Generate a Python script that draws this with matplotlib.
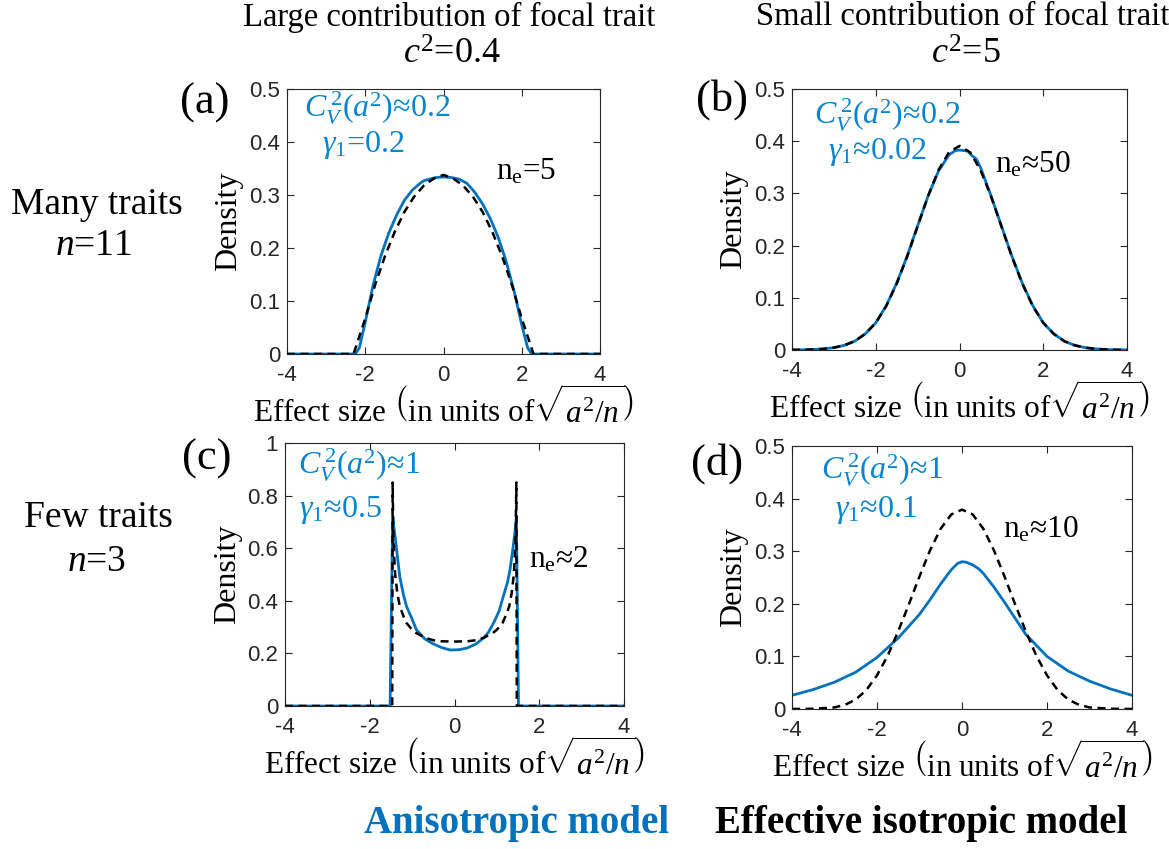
import matplotlib
matplotlib.use("Agg")
import matplotlib.pyplot as plt
from matplotlib.ticker import FuncFormatter

plt.rcParams['mathtext.fontset'] = 'custom'
plt.rcParams['mathtext.rm'] = 'Liberation Serif'
plt.rcParams['mathtext.it'] = 'Liberation Serif:italic'
plt.rcParams['mathtext.bf'] = 'Liberation Serif:bold'

# ---------------- data ----------------
# Panel (a): many traits, large contribution
a_aniso_x = [-4, -2.25, -2.15, -2.0, -1.8, -1.6, -1.4, -1.2, -1.0, -0.8, -0.6, -0.5, -0.4,
             -0.2, 0, 0.2, 0.4, 0.6, 0.8, 1.0, 1.2, 1.4, 1.6, 1.8, 2.0, 2.15, 2.25, 4]
a_aniso_y = [0, 0, 0.012, 0.06, 0.13, 0.185, 0.228, 0.262, 0.29, 0.309, 0.322, 0.327, 0.329,
             0.333, 0.334, 0.333, 0.330, 0.322, 0.305, 0.283, 0.255, 0.22, 0.175, 0.12, 0.055, 0.012, 0, 0]
a_iso_x = [-4, -2.3, -2.0, -1.75, -1.5, -1.25, -1.0, -0.75, -0.5, -0.25, 0, 0.25, 0.5, 0.75,
           1.0, 1.25, 1.5, 1.75, 2.0, 2.3, 4]
a_iso_y = [0, 0, 0.067, 0.130, 0.184, 0.230, 0.268, 0.297, 0.318, 0.331, 0.338, 0.331, 0.318, 0.297,
           0.268, 0.230, 0.184, 0.130, 0.067, 0, 0]

# Panel (b): many traits, small contribution
b_iso_x = [-4, -3.75, -3.5, -3.25, -3, -2.75, -2.5, -2.25, -2, -1.75, -1.5, -1.25, -1, -0.75, -0.5, -0.25,
           0, 0.25, 0.5, 0.75, 1, 1.25, 1.5, 1.75, 2, 2.25, 2.5, 2.75, 3, 3.25, 3.5, 3.75, 4]
b_iso_y = [0.0002, 0.0004, 0.001, 0.0022, 0.0045, 0.009, 0.017, 0.031, 0.052, 0.084, 0.127, 0.179, 0.237,
           0.295, 0.345, 0.379, 0.391, 0.379, 0.345, 0.295, 0.237, 0.179, 0.127, 0.084, 0.052, 0.031,
           0.017, 0.009, 0.0045, 0.0022, 0.001, 0.0004, 0.0002]
b_aniso_x = [-4, -3.75, -3.5, -3.25, -3, -2.75, -2.5, -2.25, -2, -1.75, -1.5, -1.25, -1, -0.75, -0.5, -0.25,
             -0.1, 0, 0.1, 0.2, 0.3, 0.4, 0.5, 0.75, 1, 1.25, 1.5, 1.75, 2, 2.25, 2.5, 2.75, 3, 3.25,
             3.5, 3.75, 4]
b_aniso_y = [0.0002, 0.0004, 0.001, 0.0022, 0.0045, 0.009, 0.017, 0.031, 0.052, 0.085, 0.128, 0.180, 0.238,
             0.295, 0.343, 0.374, 0.382, 0.383, 0.382, 0.381, 0.372, 0.366, 0.350, 0.296, 0.238, 0.180,
             0.128, 0.085, 0.052, 0.031, 0.017, 0.009, 0.0045, 0.0022, 0.001, 0.0004, 0.0002]

# Panel (c): few traits, large contribution
c_aniso_x = [-4, -1.52, -1.46, -1.37, -1.29, -1.2, -1.13, -1.0, -0.9, -0.7, -0.5, -0.3, -0.1, 0.1, 0.29,
             0.5, 0.68, 0.8, 0.92, 1.05, 1.15, 1.25, 1.31, 1.38, 1.44, 1.46, 1.51, 4]
c_aniso_y = [0, 0, 0.72, 0.60, 0.49, 0.42, 0.378, 0.33, 0.29, 0.255, 0.236, 0.222, 0.213, 0.214, 0.22,
             0.235, 0.258, 0.28, 0.315, 0.36, 0.416, 0.47, 0.518, 0.60, 0.68, 0.72, 0, 0]
c_iso_x = [-4, -1.47, -1.46, -1.44, -1.40, -1.35, -1.29, -1.2, -1.13, -1.0, -0.9, -0.7, -0.5, -0.3, 0,
           0.3, 0.5, 0.7, 0.9, 1.0, 1.13, 1.2, 1.29, 1.35, 1.40, 1.44, 1.46, 1.47, 4]
c_iso_y = [0, 0, 0.85, 0.62, 0.50, 0.43, 0.378, 0.34, 0.315, 0.29, 0.277, 0.26, 0.25, 0.246, 0.245,
           0.246, 0.25, 0.26, 0.277, 0.29, 0.315, 0.34, 0.378, 0.43, 0.50, 0.62, 0.85, 0, 0]

# Panel (d): few traits, small contribution
d_aniso_x = [-4, -3.5, -3, -2.5, -2, -1.5, -1, -0.75, -0.5, -0.25, -0.1, 0, 0.1, 0.25, 0.4, 0.5, 0.75,
             1, 1.5, 2, 2.5, 3, 3.5, 4]
d_aniso_y = [0.026, 0.037, 0.051, 0.07, 0.098, 0.135, 0.18, 0.208, 0.238, 0.265, 0.277, 0.28, 0.279,
             0.274, 0.266, 0.258, 0.232, 0.203, 0.142, 0.1, 0.072, 0.053, 0.038, 0.026]
d_iso_x = [-4, -3.5, -3, -2.75, -2.5, -2.25, -2, -1.75, -1.5, -1.25, -1, -0.75, -0.5, -0.25, 0,
           0.25, 0.5, 0.75, 1, 1.25, 1.5, 1.75, 2, 2.25, 2.5, 2.75, 3, 3.5, 4]
d_iso_y = [0, 0.0005, 0.003, 0.008, 0.018, 0.036, 0.064, 0.101, 0.148, 0.199, 0.252, 0.302, 0.343, 0.370,
           0.379, 0.370, 0.343, 0.302, 0.252, 0.199, 0.148, 0.101, 0.064, 0.036, 0.018, 0.008, 0.003,
           0.0005, 0]

x_ticks = [-4, -2, 0, 2, 4]
ylim_top = [0.5, 0.5, 1.0, 0.5]
panel_labels = ['(a)', '(b)', '(c)', '(d)']
cv_texts = [r'$C_V^{\,2}(a^2)$≈0.2', r'$C_V^{\,2}(a^2)$≈0.2', r'$C_V^{\,2}(a^2)$≈1', r'$C_V^{\,2}(a^2)$≈1']
g_texts = [r'$\gamma_1$=0.2', r'$\gamma_1$≈0.02', r'$\gamma_1$≈0.5', r'$\gamma_1$≈0.1']
ne_texts = [r'n$_\mathrm{e}$=5', r'n$_\mathrm{e}$≈50', r'n$_\mathrm{e}$≈2', r'n$_\mathrm{e}$≈10']
col_titles = ['Large contribution of focal trait', 'Small contribution of focal trait']
col_c2 = [r'$c^2$=0.4', r'$c^2$=5']
row_titles = ['Many traits', 'Few traits']
row_n = [r'$n$=11', r'$n$=3']
legend_texts = ['Anisotropic model', 'Effective isotropic model']

# ---------------- figure ----------------
W, H = 1169, 849
fig = plt.figure(figsize=(W / 100, H / 100), dpi=100)

def fx(px):
    return px / W

def fy(py):
    return 1 - py / H

def box(l, t, r, b):
    return [fx(l), fy(b), fx(r) - fx(l), fy(t) - fy(b)]

BLUE = '#0072BD'
ANN = '#0a84d0'
SERIF = ['Liberation Serif', 'DejaVu Serif']
SANS = ['Liberation Sans', 'DejaVu Sans']

rects = [box(287, 89, 600, 354), box(792, 89, 1127, 350),
         box(285, 443, 624, 706), box(792, 446, 1132, 709)]
data = [(a_aniso_x, a_aniso_y, a_iso_x, a_iso_y),
        (b_aniso_x, b_aniso_y, b_iso_x, b_iso_y),
        (c_aniso_x, c_aniso_y, c_iso_x, c_iso_y),
        (d_aniso_x, d_aniso_y, d_iso_x, d_iso_y)]

for i, rect in enumerate(rects):
    ax = fig.add_axes(rect)
    ax_x, ax_y, iso_x, iso_y = data[i]
    ax.plot(ax_x, ax_y, color=BLUE, lw=2.0, zorder=2)
    ax.plot(iso_x, iso_y, color='black', lw=1.8, ls=(0, (3.2, 2.2)), zorder=3)
    ax.set_xlim(-4, 4)
    ax.set_ylim(0, ylim_top[i])
    ax.set_xticks(x_ticks)
    ax.xaxis.set_major_formatter(FuncFormatter(lambda v, p: '%g' % v))
    ax.yaxis.set_major_formatter(FuncFormatter(lambda v, p: '%g' % v))
    ax.tick_params(direction='in', top=True, right=True, length=5, width=0.8,
                   labelsize=16, colors='#262626')
    ax.tick_params(axis='x', pad=8)
    ax.tick_params(axis='y', pad=5)
    for lab in ax.get_xticklabels() + ax.get_yticklabels():
        lab.set_fontfamily(SANS)
    for s in ax.spines.values():
        s.set_color('#262626')
        s.set_linewidth(0.8)
    ax.set_ylabel('Density', fontsize=23, family=SERIF, labelpad=4)
    ax.set_xlabel(r'Effect size $\left(\mathrm{in\ units\ of}\sqrt{a^2/n}\right)$',
                  fontsize=22.5, family=SERIF, labelpad=1)

# annotations inside panels (pixel positions)
cv_pos = [(377, 108), (887, 115), (359, 465), (882, 470)]
g_pos = [(363, 145), (877, 152), (340, 510), (876, 510)]
ne_pos = [(526, 172), (1033, 165), (559, 560), (1041, 530)]
lab_pos = [(205, 103), (722, 100), (207, 459), (717, 464)]
for i in range(4):
    fig.text(fx(cv_pos[i][0]), fy(cv_pos[i][1]), cv_texts[i], color=ANN, fontsize=23,
             family=SERIF, ha='center', va='center')
    fig.text(fx(g_pos[i][0]), fy(g_pos[i][1]), g_texts[i], color=ANN, fontsize=23,
             family=SERIF, ha='center', va='center')
    fig.text(fx(ne_pos[i][0]), fy(ne_pos[i][1]), ne_texts[i], color='black', fontsize=22.5,
             family=SERIF, ha='center', va='center')
    fig.text(fx(lab_pos[i][0]), fy(lab_pos[i][1]), panel_labels[i], color='black', fontsize=32,
             family=SERIF, ha='center', va='center')

# column titles
for cx, t, c2 in zip([449, 963], col_titles, col_c2):
    fig.text(fx(cx), fy(17), t, fontsize=23.5, family=SERIF, ha='center', va='center')
    fig.text(fx(cx + 3), fy(55), c2, fontsize=26, family=SERIF, ha='center', va='center')

# row titles
for (cx, cy), t in zip([(97, 205), (98, 518)], row_titles):
    fig.text(fx(cx), fy(cy), t, fontsize=27, family=SERIF, ha='center', va='center')
for (cx, cy), t in zip([(94, 246), (97, 562)], row_n):
    fig.text(fx(cx), fy(cy), t, fontsize=27, family=SERIF, ha='center', va='center')

# bottom legend text
fig.text(fx(517), fy(823), legend_texts[0], color=BLUE, fontsize=28, fontweight='bold',
         family=SERIF, ha='center', va='center')
fig.text(fx(921), fy(823), legend_texts[1], color='black', fontsize=28, fontweight='bold',
         family=SERIF, ha='center', va='center')

fig.savefig('out.png', dpi=100)
